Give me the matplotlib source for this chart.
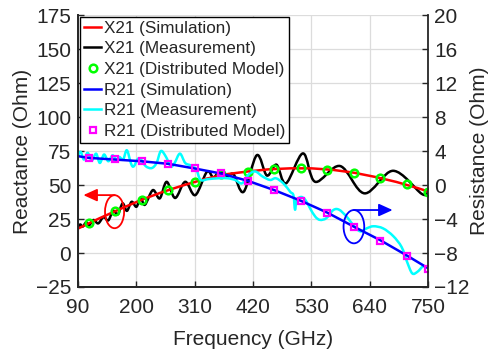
import numpy as np
import matplotlib.pyplot as plt
from matplotlib.path import Path
from matplotlib.patches import PathPatch, Ellipse
from matplotlib.lines import Line2D

plt.rcParams['font.family'] = ['Liberation Sans', 'DejaVu Sans']

# X21 simulation (left axis, Ohm)
red_f = [90, 130, 170, 210, 250, 290, 330, 370, 410, 450, 490, 530, 570, 610, 650, 690, 730, 750]
red_x = [18.0, 25.5, 32.5, 39.2, 45.0, 50.0, 54.5, 58.0, 60.0, 61.6, 62.3, 62.3, 61.2, 59.1, 56.0, 52.3, 47.8, 45.3]

# X21 measurement
black_f = [90, 94, 99, 105, 111, 119, 128, 138, 147, 156, 165, 174, 182, 191, 200, 208, 216, 231, 244, 257,
           273, 292, 311, 333, 345, 357, 370, 383, 402, 427, 446, 464, 482, 514, 537, 584, 630, 684, 738, 750]
black_x = [19.0, 21.0, 19.5, 22.5, 20.5, 24.3, 21.8, 26.5, 24.0, 31.0, 28.5, 36.5, 31.0, 37.7, 34.0, 40.5, 35.5, 46.3, 40.2, 52.4,
           40.5, 52.4, 42.6, 59.8, 55.5, 60.0, 56.0, 58.0, 45.0, 72.0, 57.0, 65.0, 51.3, 73.3, 52.4, 64.0, 43.9, 60.5, 43.5, 45.0]

# distributed model points (both X21 and R21)
model_f = [110, 160, 210, 260, 310, 360, 410, 460, 510, 560, 610, 660, 710, 750]
green_x = [21.8, 30.9, 39.0, 46.3, 52.0, 57.9, 59.8, 61.8, 62.7, 61.3, 59.0, 54.9, 50.5, 44.6]
mag_r = [3.14, 3.02, 2.82, 2.51, 1.96, 1.38, 0.51, -0.59, -1.85, -3.26, -4.91, -6.55, -8.35, -9.92]

# R21 simulation (right axis, Ohm)
blue_f = [90, 110, 160, 210, 260, 310, 360, 410, 460, 510, 560, 610, 660, 710, 750]
blue_r = [3.4, 3.2, 3.0, 2.8, 2.5, 1.95, 1.35, 0.5, -0.6, -1.85, -3.25, -4.9, -6.5, -8.3, -9.8]

# R21 measurement
cyan_f = [90, 95, 101, 108, 116, 124, 131, 139, 147, 155, 162, 168, 175, 182, 190, 195, 203, 210, 218, 229,
          238, 246, 255, 265, 272, 282, 292, 303, 313, 321, 335, 355, 372, 386, 399, 411, 424, 438, 452, 463,
          477, 490, 496, 499, 502, 510, 518, 527, 537, 546, 558, 571, 582, 596, 610, 622, 634, 647, 665, 684,
          700, 710, 720, 730, 740, 750]
cyan_r = [3.5, 3.9, 3.0, 3.8, 2.9, 3.7, 2.6, 3.6, 2.8, 3.5, 3.0, 3.3, 3.0, 4.1, 2.5, 2.2, 3.1, 2.9, 2.2, 2.0,
          2.6, 4.0, 3.4, 2.2, 2.6, 3.7, 2.6, 2.3, 1.8, 0.6, 0.7, 0.8, 0.8, 0.6, 0.2, 1.2, 1.6, 1.0, 0.6, 0.8,
          0.2, -0.8, -1.2, -2.9, -1.8, -1.4, -1.7, -2.7, -3.7, -4.1, -3.9, -2.95, -2.9, -3.7, -4.8, -5.45, -5.1, -4.85, -5.1, -6.0,
          -7.3, -9.0, -10.4, -10.2, -9.6, -9.6]

labels = ['X21 (Simulation)', 'X21 (Measurement)', 'X21 (Distributed Model)',
          'R21 (Simulation)', 'R21 (Measurement)', 'R21 (Distributed Model)']

txt = '#262626'


def smooth_curve(ax, xs, ys, color, lw):
    # smooth bezier path through the read points
    pts = np.column_stack([xs, ys]).astype(float)
    n = len(pts)
    verts = [pts[0]]
    codes = [Path.MOVETO]
    for i in range(n - 1):
        p0 = pts[max(i - 1, 0)]
        p1 = pts[i]
        p2 = pts[i + 1]
        p3 = pts[min(i + 2, n - 1)]
        verts += [p1 + (p2 - p0) / 6, p2 - (p3 - p1) / 6, p2]
        codes += [Path.CURVE4] * 3
    ax.add_patch(PathPatch(Path(verts, codes), fill=False, edgecolor=color, lw=lw,
                           capstyle='round', joinstyle='round'))


fig = plt.figure(figsize=(4.91, 3.53), dpi=100)
ax = fig.add_axes([0.159, 0.187, 0.713, 0.770])
ax2 = ax.twinx()

ax.plot(red_f, red_x, color='#ff0000', lw=1.8)
smooth_curve(ax, black_f, black_x, 'black', 1.8)
ax.plot(model_f, green_x, 'o', color='#00ff00', mfc='none', ms=5.5, mew=1.8)

ax2.plot(blue_f, blue_r, color='#0000ff', lw=1.8)
smooth_curve(ax2, cyan_f, cyan_r, '#00ffff', 1.8)
ax2.plot(model_f, mag_r, 's', color='#ff00ff', mfc='none', ms=4.5, mew=1.6)

# annotations
ax.add_patch(Ellipse((158.8, 30.4), 36, 24.3, fill=False, edgecolor='#ff0000', lw=1.3))
ax.annotate('', xy=(100, 42.6), xytext=(158.8, 42.6),
            arrowprops=dict(arrowstyle='-|>,head_length=0.55,head_width=0.25', color='#ff0000',
                            lw=1.3, mutation_scale=15, shrinkA=0, shrinkB=0))
ax2.add_patch(Ellipse((610, -4.9), 39, 3.92, fill=False, edgecolor='#0000ff', lw=1.3))
ax2.annotate('', xy=(683, -2.94), xytext=(610, -2.94),
             arrowprops=dict(arrowstyle='-|>,head_length=0.55,head_width=0.25', color='#0000ff',
                             lw=1.3, mutation_scale=15, shrinkA=0, shrinkB=0))

ax.set_xlim(90, 750)
ax.set_ylim(-25, 175)
ax2.set_ylim(-12, 20)
ax.set_xticks(np.arange(90, 751, 110))
ax.set_yticks(np.arange(-25, 176, 25))
ax2.set_yticks(np.arange(-12, 21, 4))

ax.grid(True, color='#dcdcdc', lw=0.9)
ax.set_axisbelow(True)

for a in (ax, ax2):
    a.spines['top'].set_visible(False)
    for s in a.spines.values():
        s.set_linewidth(1.3)
        s.set_color(txt)
    a.tick_params(direction='in', length=4, width=1, labelsize=15, colors=txt)
ax.spines['right'].set_visible(False)
ax.tick_params(axis='x', pad=8)
ax.tick_params(axis='y', pad=5)
ax2.tick_params(axis='y', pad=4.5)

ax.set_xlabel('Frequency (GHz)', fontsize=15, color=txt, labelpad=9)
ax.set_ylabel('Reactance (Ohm)', fontsize=15, color=txt, labelpad=3)
ax2.set_ylabel('Resistance (Ohm)', fontsize=15, color=txt, labelpad=0)

handles = [Line2D([], [], color='#ff0000', lw=1.8),
           Line2D([], [], color='black', lw=1.8),
           Line2D([], [], ls='none', marker='o', color='#00ff00', mfc='none', ms=5.5, mew=1.8),
           Line2D([], [], color='#0000ff', lw=1.8),
           Line2D([], [], color='#00ffff', lw=1.8),
           Line2D([], [], ls='none', marker='s', color='#ff00ff', mfc='none', ms=4.5, mew=1.6)]
leg = ax2.legend(handles, labels, loc='upper left', bbox_to_anchor=(0.005, 0.995), borderaxespad=0,
                 fontsize=12.3, labelspacing=0.33, borderpad=0.25, handlelength=1.0, handletextpad=0.15,
                 fancybox=False, framealpha=1, edgecolor='black')
leg.get_frame().set_linewidth(1.0)
for t in leg.get_texts():
    t.set_color(txt)

fig.savefig('out.png', dpi=100)
